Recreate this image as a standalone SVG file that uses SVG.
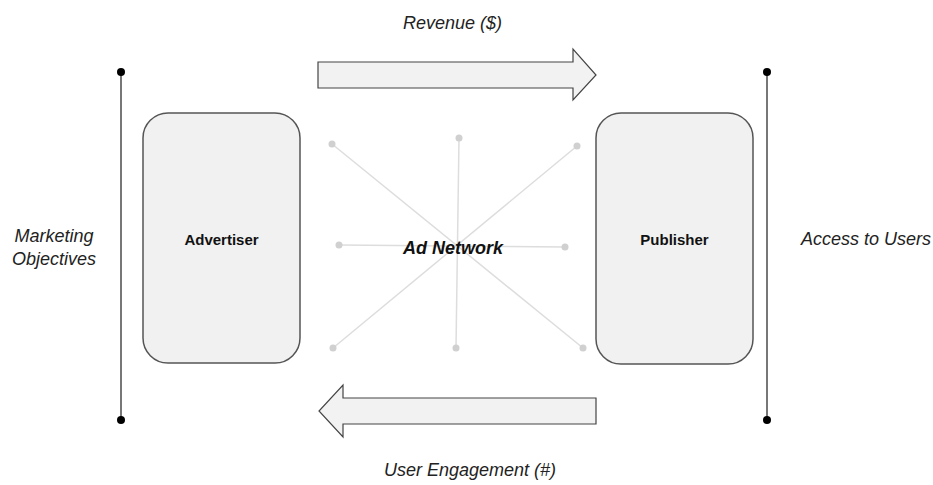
<svg xmlns="http://www.w3.org/2000/svg" width="933" height="485" viewBox="0 0 933 485">
<style>
.box{fill:#f1f1f1;stroke:#555;stroke-width:1.5}
.arrow{fill:#f2f2f2;stroke:#444;stroke-width:1.2}
.bound{stroke:#777;stroke-width:2}
.bdot{fill:#000}
.spoke{stroke:#ddd;stroke-width:1.5}
.sdot{fill:#d0d0d0}
.lbl{font-family:"Liberation Sans",Arial,sans-serif;font-style:italic;font-size:18px;fill:#222}
.name{font-family:"Liberation Sans",Arial,sans-serif;font-weight:bold;font-size:15px;fill:#111;text-anchor:middle}
</style>
<rect width="933" height="485" fill="#fff"/>
<g id="connectors">
<g id="left-bound">
<line class="bound" x1="121" y1="72" x2="121" y2="420"/>
<circle class="bdot" cx="121" cy="72" r="4"/>
<circle class="bdot" cx="121" cy="420" r="4"/>
</g>
<g id="right-bound">
<line class="bound" x1="767" y1="72" x2="767" y2="420"/>
<circle class="bdot" cx="767" cy="72" r="4"/>
<circle class="bdot" cx="767" cy="420" r="4"/>
</g>
<g id="revenue-arrow">
<polygon class="arrow" points="318,62 573,62 573,49 596,75 573,100 573,88 318,88"/>
</g>
<g id="engagement-arrow">
<polygon class="arrow" points="596,398 343,398 343,385 319,411 343,437 343,424 596,424"/>
</g>
</g>
<g id="ad-network">
<line class="spoke" x1="332" y1="144" x2="583" y2="348"/>
<line class="spoke" x1="577" y1="146" x2="333" y2="348"/>
<line class="spoke" x1="459" y1="138" x2="456" y2="348"/>
<line class="spoke" x1="339" y1="245" x2="565" y2="247"/>
<circle class="sdot" cx="332" cy="144" r="3.5"/>
<circle class="sdot" cx="459" cy="138" r="3.5"/>
<circle class="sdot" cx="577" cy="146" r="3.5"/>
<circle class="sdot" cx="339" cy="245" r="3.5"/>
<circle class="sdot" cx="565" cy="247" r="3.5"/>
<circle class="sdot" cx="333" cy="348" r="3.5"/>
<circle class="sdot" cx="456" cy="348" r="3.5"/>
<circle class="sdot" cx="583" cy="348" r="3.5"/>
<text x="453" y="254" text-anchor="middle" style="font-family:'Liberation Sans',Arial,sans-serif;font-weight:bold;font-style:italic;font-size:18px;fill:#111">Ad Network</text>
</g>
<g id="advertiser">
<rect class="box" x="143" y="113" width="157" height="250" rx="25" ry="25"/>
<text class="name" x="221.5" y="245">Advertiser</text>
</g>
<g id="publisher">
<rect class="box" x="596" y="113" width="157" height="251" rx="25" ry="25"/>
<text class="name" x="674.5" y="245">Publisher</text>
</g>
<g id="labels">
<text class="lbl" x="452.5" y="29" text-anchor="middle">Revenue ($)</text>
<text class="lbl" x="470" y="476" text-anchor="middle">User Engagement (#)</text>
<text class="lbl" x="54" y="242" text-anchor="middle">Marketing</text>
<text class="lbl" x="54" y="265" text-anchor="middle">Objectives</text>
<text class="lbl" x="866" y="245" text-anchor="middle">Access to Users</text>
</g>
</svg>
